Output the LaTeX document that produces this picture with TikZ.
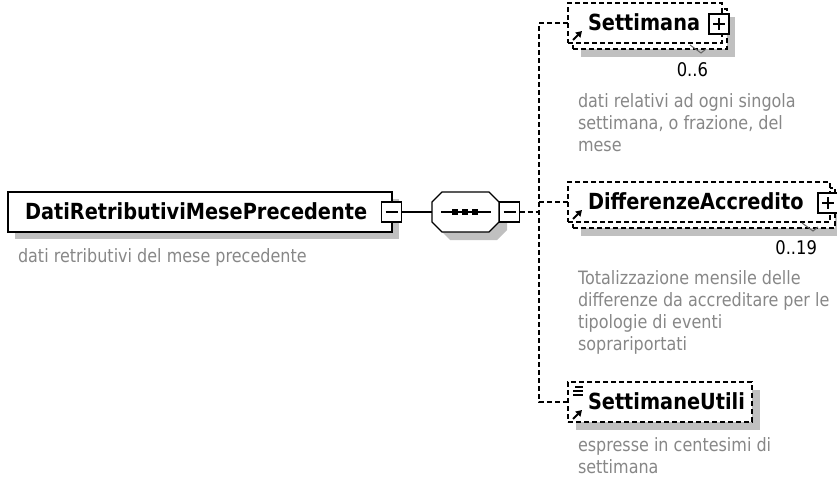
\documentclass[tikz,border=0pt]{standalone}
\usepackage{fontspec}
\usetikzlibrary{arrows.meta}
\newfontfamily\tahfam[FakeStretch=0.87]{DejaVu Sans}
\definecolor{descgray}{RGB}{135,135,135}
\definecolor{shadowgray}{RGB}{192,192,192}
\tikzset{
 every node/.style={inner sep=0pt, outer sep=0pt},
 namefont/.style={font=\tahfam\bfseries\fontsize{22.2}{24}\selectfont},
 descfont/.style={font=\tahfam\fontsize{18.4}{22}\selectfont, text=descgray, align=left},
 multfont/.style={font=\tahfam\fontsize{18.8}{22}\selectfont},
 elbox/.style={draw, line width=1.3pt, dash pattern=on 5pt off 3pt, fill=white, minimum height=40pt},
 mainbox/.style={draw, line width=1.6pt, fill=white, minimum width=384pt, minimum height=40pt},
 shadowbox/.style={fill=shadowgray, minimum height=40pt},
 pmbox/.style={draw, line width=1.2pt, fill=white, minimum width=20pt, minimum height=20pt},
 conn/.style={line width=1.3pt, dash pattern=on 5pt off 3pt},
 solidconn/.style={line width=1.2pt},
 refarrow/.style={line width=2pt, -{Triangle[length=6pt,width=7pt]}},
 pmline/.style={line width=1.4pt},
 multline/.style={line width=1pt, black!60},
}
\begin{document}
\begin{tikzpicture}[x=1pt,y=-1pt]
\useasboundingbox (0,0) rectangle (837,477);
\begin{scope}
\clip (0,0) rectangle (837,477);

% ---------- main element ----------
\node[shadowbox, minimum width=384pt] (mainsh) at (207,219) {};
\node[mainbox] (main) at (200,212) {};
\node[namefont, anchor=base west] (maintxt) at (25,219.5) {DatiRetributiviMesePrecedente};
\node[pmbox] (mainm) at (391.5,212) {};
\draw[pmline] ([xshift=4pt]mainm.west) -- ([xshift=-4pt]mainm.east);
\node[descfont, anchor=base west] (maindesc) at (18,262) {dati retributivi del mese precedente};

% ---------- sequence compositor ----------
\fill[shadowgray, shift={(8,8)}] (442,192) -- (489,192) -- (499,202) -- (499,222) -- (489,232) -- (442,232) -- (432,222) -- (432,202) -- cycle;
\draw[line width=1.2pt, fill=white] (442,192) -- (489,192) -- (499,202) -- (499,222) -- (489,232) -- (442,232) -- (432,222) -- (432,202) -- cycle;
\coordinate (seqw) at (432,212);
\draw[line width=1.2pt] (441,212) -- (491,212);
\foreach \xx in {455,465,475} {\fill (\xx-3,209) rectangle (\xx+3,215);}
\node[pmbox] (seqm) at (509.5,212) {};
\draw[pmline] ([xshift=4pt]seqm.west) -- ([xshift=-4pt]seqm.east);
\draw[solidconn] (mainm.east) -- (seqw);

% ---------- Settimana ----------
\node[shadowbox, minimum width=154pt] (s1sh) at (658,37) {};
\node[elbox, minimum width=154pt] (s1b) at (650,29) {};
\node[elbox, minimum width=154pt] (s1f) at (645,23) {};
\node[namefont, anchor=base west] (s1t) at (588,30.5) {Settimana};
\node[pmbox] (s1p) at (719,24) {};
\draw[pmline] ([xshift=4pt]s1p.west) -- ([xshift=-4pt]s1p.east);
\draw[pmline] ([yshift=-4pt]s1p.north) -- ([yshift=4pt]s1p.south);
\draw[refarrow] (573,40) -- (582,31);
\draw[multline] (690,45) -- (701,53) -- (706,49);
\node[multfont, anchor=base east] (s1m) at (708,76.5) {0..6};
\node[descfont, anchor=north west] (s1d) at (578,94) {dati relativi ad ogni singola\\settimana, o frazione, del\\mese};

% ---------- DifferenzeAccredito ----------
\node[shadowbox, minimum width=262pt] (s2sh) at (712,216) {};
\node[elbox, minimum width=262pt] (s2b) at (704,208) {};
\node[elbox, minimum width=262pt] (s2f) at (699,202) {};
\node[namefont, anchor=base west] (s2t) at (588,209.5) {DifferenzeAccredito};
\node[pmbox] (s2p) at (828,203) {};
\draw[pmline] ([xshift=4pt]s2p.west) -- ([xshift=-4pt]s2p.east);
\draw[pmline] ([yshift=-4pt]s2p.north) -- ([yshift=4pt]s2p.south);
\draw[refarrow] (573,219) -- (582,210);
\draw[multline] (802,223) -- (813,231) -- (818,227);
\node[multfont, anchor=base east] (s2m) at (817,254.5) {0..19};
\node[descfont, anchor=north west] (s2d) at (578,271) {Totalizzazione mensile delle\\differenze da accreditare per le\\tipologie di eventi\\soprariportati};

% ---------- SettimaneUtili ----------
\node[shadowbox, minimum width=184pt] (s3sh) at (668,410) {};
\node[elbox, minimum width=184pt] (s3f) at (660,402) {};
\node[namefont, anchor=base west] (s3t) at (588,409.5) {SettimaneUtili};
\draw[line width=1.2pt] (575,387) -- (583,387);
\draw[line width=1.2pt] (573,391) -- (583,391);
\draw[line width=1.2pt] (573,395) -- (583,395);
\draw[refarrow] (573,419) -- (582,410);
\node[descfont, anchor=north west] (s3d) at (578,438) {espresse in centesimi di\\settimana};

% ---------- connectors ----------
\coordinate (j1) at (539,212);
\coordinate (j2) at (539,202);
\draw[conn] (seqm.east) -- (j1);
\draw[conn] (s1f.west) -- ++(-29,0) |- (s3f.west);
\draw[conn] (j2) -- (s2f.west);
\end{scope}
\end{tikzpicture}
\end{document}
